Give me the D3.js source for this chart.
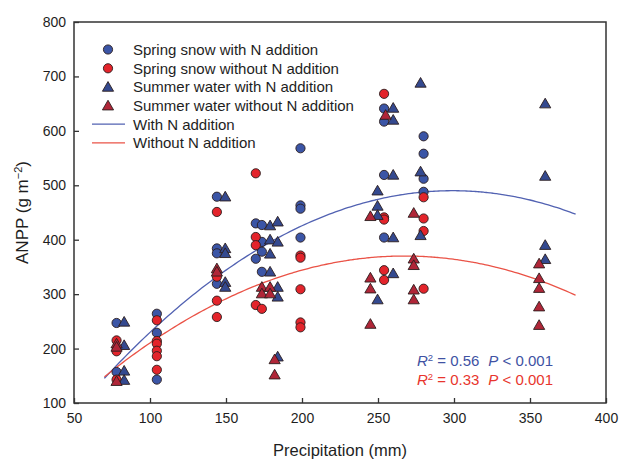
<!DOCTYPE html>
<html><head><meta charset="utf-8">
<script src="https://cdn.jsdelivr.net/npm/d3@7"></script>
<style>body{margin:0;background:#fff}svg{display:block}text{font-family:"Liberation Sans",Arial,sans-serif}</style>
</head><body><svg id="c" width="619" height="461"></svg>
<script>
// ---- data (precipitation mm, ANPP g m-2) ----
const springN_x = [78,78,104.5,104.5,104.5,144,144,144,144,169.6,169.6,173.6,173.6,173.6,173.6,199,199,199,199,254,254,254,254,280,280,280,280];
const springN_y = [247,157,264,229,143,479,384,375,319,430,365,427,396,378,341,568,463,457,404,641,617,519,404,590,558,512,488];
const springNo_x = [78,78,78,104.5,104.5,104.5,104.5,104.5,104.5,144,144,144,144,169.6,169.6,169.6,169.6,173.6,199,199,199,199,199,254,254,254,254,254,280,280,280,280];
const springNo_y = [215,195,143,252,214,209,196,186,161,451,332,288,258,522,405,390,280,273,371,367,309,248,239,668,441,437,344,326,478,439,416,310];
const summerN_x = [83,83,83,83,149.5,149.5,149.5,149.5,149.5,179,179,179,179,184,184,184,184,184,249.7,249.7,249.7,249.7,260,260,260,260,260,278,278,278,360,360,360,360];
const summerN_y = [249,206,159,142,479,384,375,322,313,426,400,374,341,433,396,313,295,185,490,462,445,290,642,620,519,404,338,688,525,408,650,517,390,364];
const summerNo_x = [78,78,78,144,144,173.6,173.6,179,179,182,182,245,245,245,245,255,273.5,273.5,273.5,273.5,273.5,356,356,356,356,356];
const summerNo_y = [209,203,140,347,341,313,301,313,301,180,152,443,330,310,245,629,449,365,353,308,290,356,329,311,277,243];
// quadratic fits: y = c0 + c1*x + c2*x^2, drawn over [70, 380]
const fitWithN = [-97.6, 3.9307, -0.006573];
const fitWithoutN = [-37.2, 3.0447, -0.005691];
const fitRange = [70, 380];
const xTicks = [50,100,150,200,250,300,350,400];
const yTicks = [100,200,300,400,500,600,700,800];
const legendLabels = ["Spring snow with N addition","Spring snow without N addition","Summer water with N addition","Summer water without N addition","With N addition","Without N addition"];
const statLines = [["0.56","< 0.001"],["0.33","< 0.001"]];

const C = {bc:"#3b55a6", bt:"#34498f", rc:"#e3242b", rt:"#b02638", bl:"#5262b2", rl:"#ea5347", bTxt:"#4052a3", rTxt:"#e8352d"};
const svg = d3.select("#c");
const m = {l:74, t:22, r:606, b:403};
const x = d3.scaleLinear().domain([50,400]).range([m.l,m.r]);
const y = d3.scaleLinear().domain([100,800]).range([m.b,m.t]);

// fit lines
function fitPts(c){ return d3.range(fitRange[0], fitRange[1]+0.5, 2).map(v=>[v, c[0]+c[1]*v+c[2]*v*v]); }
const line = d3.line().x(d=>x(d[0])).y(d=>y(d[1])).curve(d3.curveMonotoneX);
svg.append("path").attr("d",line(fitPts(fitWithN))).attr("fill","none").attr("stroke",C.bl).attr("stroke-width",1.3);
svg.append("path").attr("d",line(fitPts(fitWithoutN))).attr("fill","none").attr("stroke",C.rl).attr("stroke-width",1.3);

const tri = d3.symbol().type(d3.symbolTriangle).size(54);
function circles(xs, ys, col){
  svg.append("g").selectAll("circle").data(xs.map((v,i)=>[v,ys[i]])).join("circle")
    .attr("cx",d=>x(d[0])).attr("cy",d=>y(d[1])).attr("r",4.6)
    .attr("fill",col).attr("stroke","#2b1d1d").attr("stroke-width",0.9);
}
function triangles(xs, ys, col){
  svg.append("g").selectAll("path").data(xs.map((v,i)=>[v,ys[i]])).join("path")
    .attr("d",tri).attr("transform",d=>`translate(${x(d[0])},${y(d[1])+1})`)
    .attr("fill",col).attr("stroke","#2b1d1d").attr("stroke-width",0.9);
}
circles(springN_x, springN_y, C.bc);
circles(springNo_x, springNo_y, C.rc);
triangles(summerN_x, summerN_y, C.bt);
triangles(summerNo_x, summerNo_y, C.rt);

// frame
svg.append("rect").attr("x",m.l).attr("y",m.t).attr("width",m.r-m.l).attr("height",m.b-m.t)
  .attr("fill","none").attr("stroke","#333").attr("stroke-width",1.5);
// axes (ticks inward)
const xa = svg.append("g").attr("transform",`translate(0,${m.b})`)
  .call(d3.axisBottom(x).tickValues(xTicks).tickSizeInner(-5).tickSizeOuter(0).tickPadding(10));
const ya = svg.append("g").attr("transform",`translate(${m.l},0)`)
  .call(d3.axisLeft(y).tickValues(yTicks).tickSizeInner(-5).tickSizeOuter(0).tickPadding(8));
[xa,ya].forEach(a=>{
  a.select(".domain").remove();
  a.selectAll("line").attr("stroke","#333").attr("stroke-width",1.3);
  a.selectAll("text").attr("font-size",14).attr("fill","#1e1e1e").attr("font-family","Liberation Sans, Arial, sans-serif");
});
svg.append("text").attr("x",340).attr("y",456).attr("text-anchor","middle")
  .attr("font-size",16.5).attr("fill","#1e1e1e").text("Precipitation (mm)");
const yt = svg.append("text").attr("transform",`translate(28,${(m.t+m.b)/2}) rotate(-90)`)
  .attr("text-anchor","middle").attr("font-size",17).attr("fill","#1e1e1e");
yt.append("tspan").text("ANPP (g m");
yt.append("tspan").attr("dy",-6).attr("font-size",11).text("−2");
yt.append("tspan").attr("dy",6).text(")");

// legend
const lg = svg.append("g");
const rows = [49.5,68.3,87,105.7,124.2,142.8];
legendLabels.forEach((t,i)=>{
  const yy = rows[i];
  if(i===0||i===1) lg.append("circle").attr("cx",108).attr("cy",yy).attr("r",4.6).attr("fill",i===0?C.bc:C.rc).attr("stroke","#2b1d1d").attr("stroke-width",0.9);
  else if(i===2||i===3) lg.append("path").attr("d",tri).attr("transform",`translate(108,${yy+1})`).attr("fill",i===2?C.bt:C.rt).attr("stroke","#2b1d1d").attr("stroke-width",0.9);
  else lg.append("line").attr("x1",92).attr("x2",125).attr("y1",yy).attr("y2",yy).attr("stroke",i===4?C.bl:C.rl).attr("stroke-width",1.3);
  lg.append("text").attr("x",133).attr("y",yy+5.3).attr("font-size",15).attr("fill","#1e1e1e").text(t);
});

// stats
statLines.forEach((s,i)=>{
  const col = i===0?C.bTxt:C.rTxt;
  const t = svg.append("text").attr("x",553).attr("y",365.5+i*19.5).attr("text-anchor","end").attr("font-size",15).attr("fill",col);
  t.append("tspan").attr("font-style","italic").text("R");
  t.append("tspan").attr("dy",-5).attr("font-size",9.5).text("2");
  t.append("tspan").attr("dy",5).text(" = "+s[0]);
  t.append("tspan").attr("dx",9).attr("font-style","italic").text("P");
  t.append("tspan").text(" "+s[1]);
});
</script></body></html>
